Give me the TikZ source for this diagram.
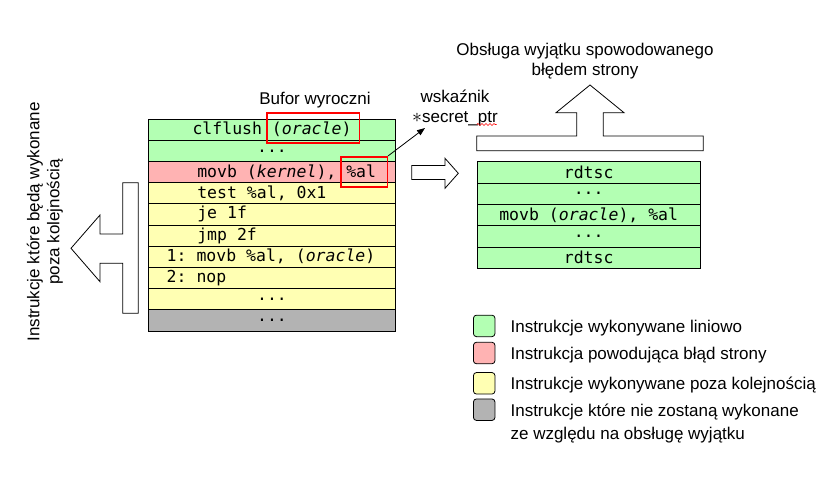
\documentclass[tikz,border=0pt]{standalone}
\usepackage{fontspec}
\setmainfont{Liberation Sans}
\setmonofont{DejaVu Sans Mono}
\usepackage{graphicx}
\usepackage{tikz}
\usetikzlibrary{arrows.meta,positioning,decorations.pathmorphing}
\definecolor{lingreen}{HTML}{B3FFB3}
\definecolor{faultred}{HTML}{FFB3B3}
\definecolor{oooyellow}{HTML}{FFFFB3}
\definecolor{skipgray}{HTML}{B3B3B3}

\begin{document}
\begin{tikzpicture}[
  x=1pt, y=-1pt,
  node distance=0pt,
  every node/.style={font=\fontsize{17}{20}\selectfont, align=center},
  row/.style={draw, line width=0.8pt, minimum width=247.4pt, minimum height=21.2pt,
              inner sep=0pt, outer sep=0pt, font=\fontsize{16.5}{18}\selectfont\ttfamily},
  rrow/.style={row, fill=lingreen, minimum width=222.7pt, minimum height=21.3pt},
  code/.style={text width=247.4pt, align=flush left},
  hilite/.style={draw=red, line width=1.6pt, inner sep=0pt},
  legbox/.style={draw, line width=0.8pt, rounded corners=3pt, minimum size=21.5pt, inner sep=0pt},
  legtext/.style={align=left, font=\fontsize{17}{23.3}\selectfont},
  blockarrow/.style={draw, fill=white, line width=0.8pt},
  line/.style={-{Triangle[length=8pt,width=6pt]}, line width=0.8pt}
]
\useasboundingbox (0,0) rectangle (832,479);

% kod wykonywany przed obsluga wyjatku
\node[row, fill=lingreen] (l1) at (272,129.6) {clflush (\textit{oracle})};
\node[row, fill=lingreen, below=of l1] (l2) {...};
\node[row, code, fill=faultred, below=of l2] (l3) {\hspace*{49pt}movb (\textit{kernel}), \%al};
\node[row, code, fill=oooyellow, below=of l3] (l4) {\hspace*{49pt}test \%al, 0x1};
\node[row, code, fill=oooyellow, below=of l4] (l5) {\hspace*{49pt}je 1f};
\node[row, code, fill=oooyellow, below=of l5] (l6) {\hspace*{49pt}jmp 2f};
\node[row, code, fill=oooyellow, below=of l6] (l7) {\hspace*{18.4pt}1: movb \%al, (\textit{oracle})};
\node[row, code, fill=oooyellow, below=of l7] (l8) {\hspace*{18.4pt}2: nop};
\node[row, fill=oooyellow, below=of l8] (l9) {...};
\node[row, fill=skipgray, below=of l9] (l10) {...};

\node (buf) at (315,100) {Bufor wyroczni};
\node[hilite, minimum width=92.6pt, minimum height=29.7pt] (orbox) at (313,127.9) {};
\node[hilite, minimum width=46.6pt, minimum height=30pt] (albox) at (364,171.7) {};

\node (wsk) at (455,108) {wskaźnik\\\scalebox{1.15}{$\ast$}secret\_ptr};
\coordinate (ptrtip) at (425,128);
\draw[line] (albox.north east) -- (ptrtip);
\draw[red, line width=0.6pt, decorate, decoration={snake, amplitude=1pt, segment length=4pt}]
  (476.7,124.5) -- (496.7,124.5);

\node[rotate=90] (ooo) at (45,222) {Instrukcje które będą wykonane\\poza kolejnością};
\draw[blockarrow] (138.3,182.7) -- (122.7,182.7) -- (122.7,234) -- (100,234) -- (100,215)
  -- (71,248.3) -- (100,281.7) -- (100,263.3) -- (122.7,263.3) -- (122.7,313.3)
  -- (138.3,313.3) -- cycle;
\draw[blockarrow] (411.7,165.5) -- (445,165.5) -- (445,158.3) -- (458.3,173.3) -- (445,188.3)
  -- (445,179.5) -- (411.7,179.5) -- cycle;

% obsluga wyjatku
\node (exc) at (585,60.7) {Obsługa wyjątku spowodowanego\\błędem strony};
\draw[blockarrow] (476.7,150.7) -- (476.7,136) -- (576.7,136) -- (576.7,112.7) -- (556,112.7)
  -- (590,85) -- (624,112.7) -- (603.3,112.7) -- (603.3,136) -- (703.3,136)
  -- (703.3,150.7) -- cycle;

\node[rrow] (r1) at (588.7,172.4) {rdtsc};
\node[rrow, below=of r1] (r2) {...};
\node[rrow, below=of r2] (r3) {movb (\textit{oracle}), \%al};
\node[rrow, below=of r3] (r4) {...};
\node[rrow, below=of r4] (r5) {rdtsc};

% legenda
\node[legbox, fill=lingreen] (lg1) at (484.2,325.9) {};
\node[legbox, fill=faultred] (lg2) at (484.2,353) {};
\node[legbox, fill=oooyellow] (lg3) at (484.2,383.3) {};
\node[legbox, fill=skipgray] (lg4) at (484.2,409.7) {};
\node[legtext, right=11.7pt of lg1, yshift=-2pt] (lt1) {Instrukcje wykonywane liniowo};
\node[legtext, right=11.7pt of lg2, yshift=-2pt] (lt2) {Instrukcja powodująca błąd strony};
\node[legtext, right=11.7pt of lg3, yshift=-1.5pt] (lt3) {Instrukcje wykonywane poza kolejnością};
\node[legtext, right=11.7pt of lg4, yshift=-13.7pt] (lt4) {Instrukcje które nie zostaną wykonane\\ze względu na obsługę wyjątku};
\end{tikzpicture}
\end{document}
